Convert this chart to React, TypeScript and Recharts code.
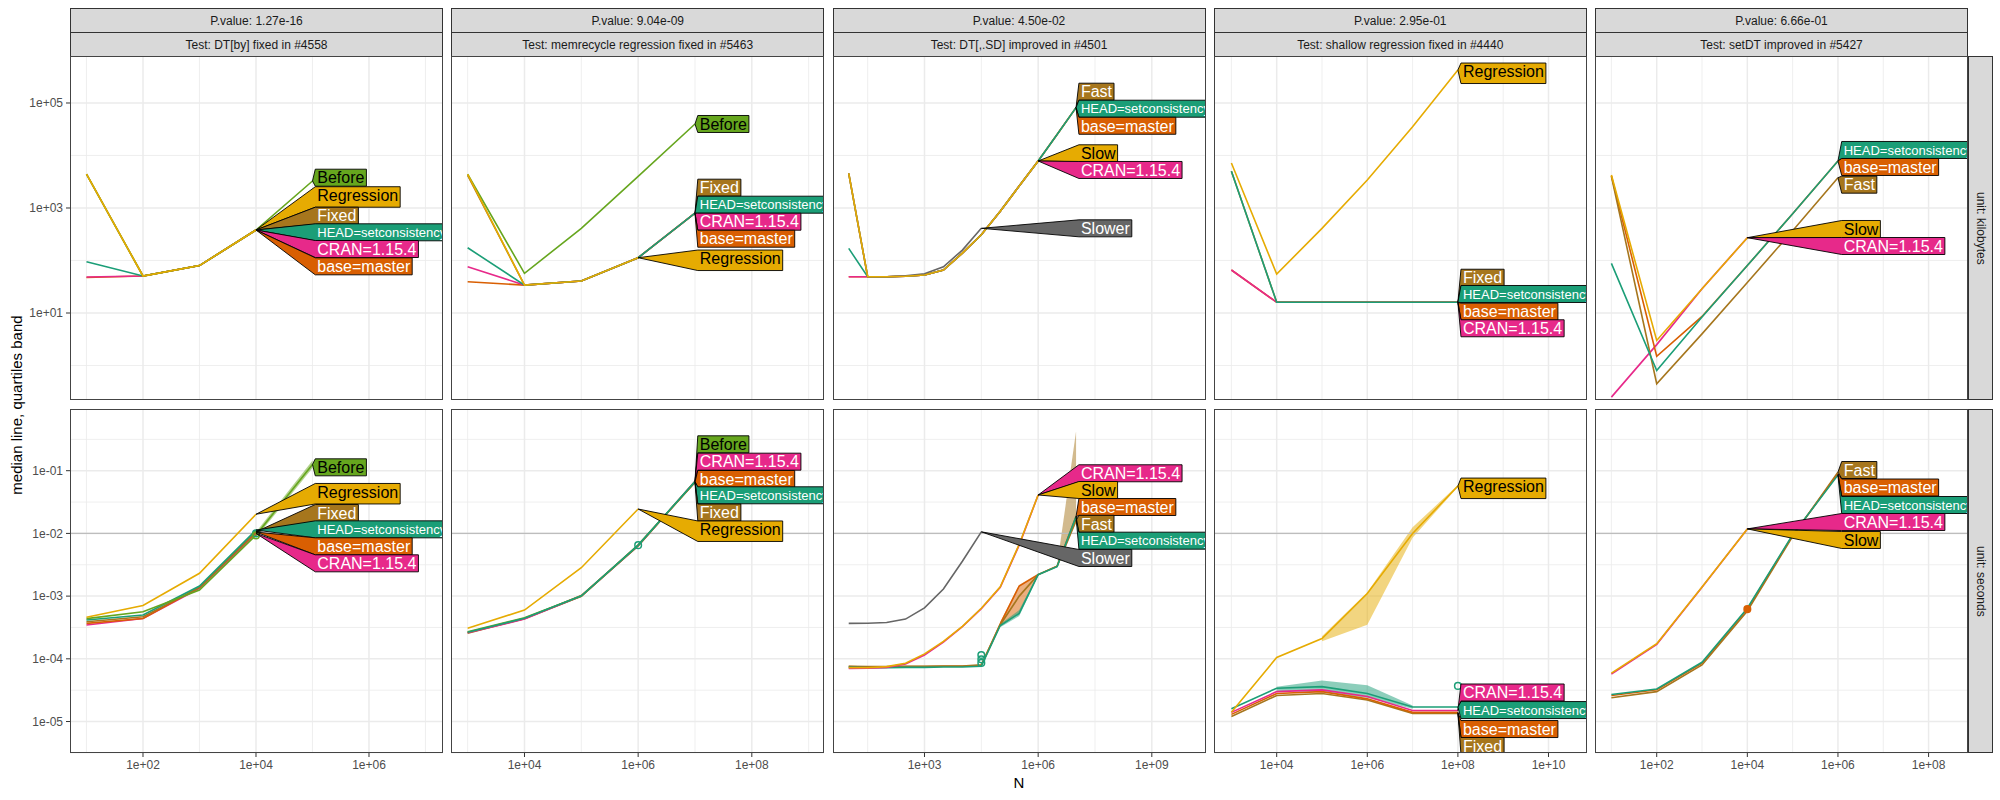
import React from "react";
import { ComposedChart, Line, Area, Scatter, XAxis, YAxis, CartesianGrid, ReferenceLine } from "recharts";

const FONT = '"Liberation Sans", Arial, Helvetica, sans-serif';

const COLORS: Record<string, string> = {
  Before: "#66A61E",
  Regression: "#E6AB02",
  Fixed: "#A6761D",
  "HEAD=setconsistency": "#1B9E77",
  "CRAN=1.15.4": "#E7298A",
  "base=master": "#D95F02",
  Slower: "#666666",
  Fast: "#A6761D",
  Slow: "#E6AB02",
};
const DARK_TEXT = new Set(["Before", "Regression", "Slow"]);

const PVALUES = ["P.value: 1.27e-16", "P.value: 9.04e-09", "P.value: 4.50e-02", "P.value: 2.95e-01", "P.value: 6.66e-01"];
const TESTS = [
  "Test: DT[by] fixed in #4558",
  "Test: memrecycle regression fixed in #5463",
  "Test: DT[,.SD] improved in #4501",
  "Test: shallow regression fixed in #4440",
  "Test: setDT improved in #5427",
];
const UNITS = ["unit: kilobytes", "unit: seconds"];

type Series = Record<string, number[]>;
type Bands = Record<string, ([number, number] | null)[]>;
type Labels = [string, number][]; // label text, log10 of box centre

// ---- DT[by] ----
const N_BY = [10, 100, 1000, 10000, 100000];
const KB_BY: Series = {
  "base=master": [47.5, 50.7, 80, 381],
  "CRAN=1.15.4": [48.5, 50.7, 80, 381],
  "HEAD=setconsistency": [95, 50.7, 80, 381],
  Fixed: [4400, 50.7, 80, 381],
  Before: [4400, 50.7, 80, 381, 3270],
  Regression: [4400, 50.7, 80, 381],
};
const SEC_BY: Series = {
  "CRAN=1.15.4": [3.46e-4, 4.4e-4, 1.33e-3, 1.0e-2],
  "base=master": [3.68e-4, 4.4e-4, 1.38e-3, 1.05e-2],
  Fixed: [3.9e-4, 4.7e-4, 1.38e-3, 1.06e-2],
  "HEAD=setconsistency": [4.16e-4, 5.0e-4, 1.45e-3, 1.13e-2],
  Before: [4.37e-4, 5.64e-4, 1.25e-3, 9.4e-3, 0.126],
  Regression: [4.59e-4, 7.1e-4, 2.31e-3, 2.02e-2],
};
const BANDS_SEC_BY: Bands = { Before: [null, null, null, [8.5e-3, 1.05e-2], [0.11, 0.145]] };
const LABELS_KB_BY: Labels = [["Before", 3.577], ["Regression", 3.21], ["Fixed", 2.853], ["HEAD=setconsistency", 2.537], ["CRAN=1.15.4", 2.219], ["base=master", 1.889]];
const LABELS_SEC_BY: Labels = [["Before", -0.946], ["Regression", -1.367], ["Fixed", -1.675], ["HEAD=setconsistency", -1.935], ["base=master", -2.206], ["CRAN=1.15.4", -2.477]];

// ---- memrecycle ----
const N_MEM = [1000, 10000, 100000, 1e6, 1e7];
const KB_MEM: Series = {
  "base=master": [39.5, 34, 40.7, 113, 795],
  "CRAN=1.15.4": [76, 34, 40.7, 113, 795],
  Fixed: [4200, 34, 40.7, 113, 795],
  "HEAD=setconsistency": [175, 34, 40.7, 113, 795],
  Before: [4390, 57, 410, 4000, 39800],
  Regression: [4390, 34, 40.7, 113],
};
const SEC_MEM: Series = {
  Fixed: [2.55e-4, 4.4e-4, 9.9e-4, 6.6e-3, 6.5e-2],
  "base=master": [2.62e-4, 4.35e-4, 1.02e-3, 6.4e-3, 6.6e-2],
  "CRAN=1.15.4": [2.6e-4, 4.3e-4, 1.0e-3, 6.3e-3, 6.8e-2],
  Before: [2.7e-4, 4.5e-4, 1.0e-3, 6.4e-3, 6.7e-2],
  "HEAD=setconsistency": [2.66e-4, 4.43e-4, 1.01e-3, 6.5e-3, 6.7e-2],
  Regression: [3.06e-4, 6.0e-4, 2.84e-3, 2.45e-2],
};
const LABELS_KB_MEM: Labels = [["Before", 4.6], ["Fixed", 3.387], ["HEAD=setconsistency", 3.063], ["CRAN=1.15.4", 2.739], ["base=master", 2.415], ["Regression", 2.004]];
const LABELS_SEC_MEM: Labels = [["Before", -0.579], ["CRAN=1.15.4", -0.856], ["base=master", -1.132], ["HEAD=setconsistency", -1.392], ["Fixed", -1.667], ["Regression", -1.965]];

// ---- DT[,.SD] ----
const N_SD = [10, 31.6, 100, 316, 1000, 3160, 10000, 31600, 1e5, 3.16e5, 1e6, 3.16e6, 1e7];
const KB_SD: Series = {
  "base=master": [49, 49, 49, 50, 53, 66, 138, 310, 870, 2630, 7850, 25100, 81600],
  Fast: [4570, 49, 49, 50, 53, 66, 138, 310, 870, 2630, 7850, 25100, 81600],
  "CRAN=1.15.4": [49, 49, 49, 50, 53, 66, 138, 310, 870, 2630, 7850],
  "HEAD=setconsistency": [170, 49, 49, 50, 53, 66, 138, 310, 870, 2630, 7850, 25100, 81600],
  Slower: [4570, 49, 49, 51, 56, 76, 158, 410],
  Slow: [4570, 49, 49, 50, 53, 66, 138, 310, 870, 2630, 7850],
};
const SEC_SD: Series = {
  Slower: [3.68e-4, 3.7e-4, 3.8e-4, 4.3e-4, 6.5e-4, 1.3e-3, 3.6e-3, 1.06e-2],
  "base=master": [7.5e-5, 7.4e-5, 7.4e-5, 7.5e-5, 7.5e-5, 7.6e-5, 7.6e-5, 7.8e-5, 3.6e-4, 1.45e-3, 2.2e-3, 3.0e-3, 1.85e-2],
  Fast: [7.6e-5, 7.5e-5, 7.5e-5, 7.6e-5, 7.6e-5, 7.7e-5, 7.7e-5, 8.0e-5, 3.5e-4, 1.0e-3, 2.2e-3, 3.0e-3, 1.6e-2],
  "HEAD=setconsistency": [7.3e-5, 7.2e-5, 7.2e-5, 7.3e-5, 7.3e-5, 7.4e-5, 7.4e-5, 7.6e-5, 3.4e-4, 5.3e-4, 2.2e-3, 2.95e-3, 1.85e-2],
  "CRAN=1.15.4": [7.0e-5, 7.1e-5, 7.3e-5, 8.3e-5, 1.15e-4, 1.85e-4, 3.25e-4, 6.3e-4, 1.38e-3, 6.5e-3, 4.1e-2],
  Slow: [7.2e-5, 7.2e-5, 7.5e-5, 8.5e-5, 1.2e-4, 1.9e-4, 3.3e-4, 6.4e-4, 1.41e-3, 6.7e-3, 4.1e-2],
};
const BANDS_SEC_SD: Bands = {
  Fast: [null, null, null, null, null, null, null, null, null, null, null, [2.9e-3, 3.1e-3], [1.5e-2, 0.42]],
  "base=master": [null, null, null, null, null, null, null, null, [3.3e-4, 3.9e-4], [5.5e-4, 1.5e-3], [2.1e-3, 2.3e-3]],
  "HEAD=setconsistency": [null, null, null, null, null, null, null, null, [3.2e-4, 3.6e-4], [4.8e-4, 6.0e-4], [2.1e-3, 2.3e-3]],
};
const LABELS_KB_SD: Labels = [["Fast", 5.215], ["HEAD=setconsistency", 4.891], ["base=master", 4.566], ["Slow", 4.042], ["CRAN=1.15.4", 3.724], ["Slower", 2.613]];
const LABELS_SEC_SD: Labels = [["CRAN=1.15.4", -1.041], ["Slow", -1.308], ["base=master", -1.579], ["Fast", -1.847], ["HEAD=setconsistency", -2.116], ["Slower", -2.392]];

// ---- shallow ----
const N_SH = [1000, 10000, 1e5, 1e6, 1e7, 1e8];
const KB_SH: Series = {
  "base=master": [66, 16, 16, 16, 16, 16],
  "CRAN=1.15.4": [66, 16, 16, 16, 16, 16],
  Fixed: [5000, 16, 16, 16, 16, 16],
  "HEAD=setconsistency": [5000, 16, 16, 16, 16, 16],
  Regression: [7200, 55, 410, 3400, 35400, 425000],
};
const SEC_SH: Series = {
  Fixed: [1.2e-5, 2.6e-5, 2.8e-5, 2.2e-5, 1.35e-5, 1.35e-5],
  "base=master": [1.3e-5, 2.8e-5, 3.0e-5, 2.3e-5, 1.4e-5, 1.4e-5],
  "CRAN=1.15.4": [1.4e-5, 3.0e-5, 3.2e-5, 2.5e-5, 1.5e-5, 1.5e-5],
  "HEAD=setconsistency": [1.6e-5, 3.4e-5, 3.6e-5, 2.8e-5, 1.7e-5, 1.7e-5],
  Regression: [1.4e-5, 1.05e-4, 2.1e-4, 1.1e-3, 1.0e-2, 5.7e-2],
};
const BANDS_SEC_SH: Bands = {
  Regression: [null, null, [1.9e-4, 2.3e-4], [3.5e-4, 1.15e-3], [8.5e-3, 1.25e-2], [5.5e-2, 5.9e-2]],
  "HEAD=setconsistency": [null, [3.1e-5, 3.6e-5], [2.9e-5, 4.5e-5], [2.4e-5, 3.8e-5], [1.6e-5, 1.8e-5], null],
};
const LABELS_KB_SH: Labels = [["Regression", 5.566], ["Fixed", 1.672], ["HEAD=setconsistency", 1.362], ["base=master", 1.025], ["CRAN=1.15.4", 0.709]];
const LABELS_SEC_SH: Labels = [["Regression", -1.281], ["CRAN=1.15.4", -4.537], ["HEAD=setconsistency", -4.817], ["base=master", -5.12], ["Fixed", -5.39]];

// ---- setDT ----
const N_SET = [10, 100, 1000, 10000, 1e5, 1e6];
const KB_SET: Series = {
  "CRAN=1.15.4": [0.25, 2.5, 29, 272],
  "base=master": [4100, 1.5, 8.6, 80, 780, 7850],
  Fast: [4000, 0.45, 4.0, 38, 370, 3780],
  "HEAD=setconsistency": [88, 0.8, 8.4, 80, 780, 7850],
  Slow: [4260, 3.0, 29, 272],
};
const SEC_SET: Series = {
  "CRAN=1.15.4": [5.7e-5, 1.7e-4, 1.38e-3, 1.18e-2],
  Fast: [2.4e-5, 3.0e-5, 8.0e-5, 5.8e-4, 9.0e-3, 9.5e-2],
  "base=master": [2.6e-5, 3.2e-5, 8.5e-5, 6.2e-4, 9.3e-3, 8.9e-2],
  "HEAD=setconsistency": [2.7e-5, 3.3e-5, 8.8e-5, 6.4e-4, 9.5e-3, 8.5e-2],
  Slow: [5.9e-5, 1.74e-4, 1.4e-3, 1.18e-2],
};
const LABELS_KB_SET: Labels = [["HEAD=setconsistency", 4.105], ["base=master", 3.781], ["Fast", 3.444], ["Slow", 2.6], ["CRAN=1.15.4", 2.276]];
const LABELS_SEC_SET: Labels = [["Fast", -0.989], ["base=master", -1.268], ["HEAD=setconsistency", -1.547], ["CRAN=1.15.4", -1.818], ["Slow", -2.105]];

// outlier points [N, seconds, colour, filled]
const OUT_SEC: [number, number, string, boolean][][] = [
  [[10000, 1.0e-2, "#1B9E77", false], [10000, 9.3e-3, "#66A61E", false]],
  [[1e6, 6.5e-3, "#1B9E77", false]],
  [[31600, 1.15e-4, "#1B9E77", false], [31600, 9.8e-5, "#1B9E77", false], [31600, 8.6e-5, "#1B9E77", false]],
  [[1e8, 3.7e-5, "#1B9E77", false]],
  [[10000, 6.2e-4, "#D95F02", true]],
];

const LABEL_AT = [1.12e5, 1.12e7, 1.19e7, 1.17e8, 1.21e6];
const X_LOG_DOMAIN: [number, number][] = [[0.708, 7.31], [2.707, 9.27], [0.585, 10.43], [2.616, 10.85], [0.638, 8.87]];
const X_TICKS = [[1e2, 1e4, 1e6], [1e4, 1e6, 1e8], [1e3, 1e6, 1e9], [1e4, 1e6, 1e8, 1e10], [1e2, 1e4, 1e6, 1e8]];
const Y_LOG_DOMAIN: [number, number][] = [[-0.657, 5.895], [-5.502, -0.016]];
const Y_TICKS = [[10, 1000, 100000], [1e-5, 1e-4, 1e-3, 1e-2, 1e-1]];

const PANELS = [
  { n: N_BY, kb: KB_BY, sec: SEC_BY, bands: BANDS_SEC_BY, kbLabels: LABELS_KB_BY, secLabels: LABELS_SEC_BY },
  { n: N_MEM, kb: KB_MEM, sec: SEC_MEM, bands: {}, kbLabels: LABELS_KB_MEM, secLabels: LABELS_SEC_MEM },
  { n: N_SD, kb: KB_SD, sec: SEC_SD, bands: BANDS_SEC_SD, kbLabels: LABELS_KB_SD, secLabels: LABELS_SEC_SD },
  { n: N_SH, kb: KB_SH, sec: SEC_SH, bands: BANDS_SEC_SH, kbLabels: LABELS_KB_SH, secLabels: LABELS_SEC_SH },
  { n: N_SET, kb: KB_SET, sec: SEC_SET, bands: {}, kbLabels: LABELS_KB_SET, secLabels: LABELS_SEC_SET },
];

// layout
const PLOT_W = 373;
const PLOT_H = 344;
const Y_AXIS_W = 52;
const X_AXIS_H = 30;
const COL_LEFT = [70, 451.25, 832.5, 1213.75, 1595];
const ROW_TOP = [56, 409];

const sci = (v: number) => {
  const e = Math.round(Math.log10(v));
  return `1e${e < 0 ? "-" : "+"}${String(Math.abs(e)).padStart(2, "0")}`;
};

// minor grid halfway (in log space) between the major ticks
const minorsOf = (ticks: number[], dom: [number, number]) => {
  const logs = ticks.map((t) => Math.log10(t));
  const step = logs.length > 1 ? logs[1] - logs[0] : 1;
  const out: number[] = [];
  for (let v = logs[0] - step * 5.5; v < dom[1]; v += step) {
    if (v > dom[0]) out.push(Math.pow(10, v));
  }
  return out;
};

const CHAR_W: Record<string, number> = {
  A: 0.667, B: 0.667, C: 0.722, D: 0.722, E: 0.667, F: 0.611, H: 0.722, N: 0.722, R: 0.722, S: 0.667,
  a: 0.556, b: 0.556, c: 0.5, d: 0.556, e: 0.556, f: 0.278, g: 0.556, h: 0.556, i: 0.222, k: 0.5, l: 0.222,
  m: 0.833, n: 0.556, o: 0.556, p: 0.556, r: 0.333, s: 0.5, t: 0.278, u: 0.556, v: 0.5, w: 0.722, x: 0.5, y: 0.5,
  "=": 0.584, ".": 0.278,
};
const textW = (s: string, fs: number) => [...s].reduce((a, ch) => a + (CHAR_W[ch] ?? 0.556), 0) * fs;

function LabelShape({ ax, ay, bx, by, text }: { ax: number; ay: number; bx: number; by: number; text: string }) {
  const fs = text.startsWith("HEAD") ? 13 : 16;
  const tall = fs === 16 && /[gy]/.test(text);
  const h = tall ? 20.5 : 17;
  const top = by - h / 2;
  const bot = by + h / 2;
  const w = textW(text, fs) + 4;
  const baseline = top + 8.5 + fs * 0.358;
  return (
    <g>
      <polygon
        points={`${ax},${ay} ${bx},${top} ${bx + w},${top} ${bx + w},${bot} ${bx},${bot}`}
        fill={COLORS[text]}
        stroke="#000"
        strokeWidth={0.9}
      />
      <text x={bx + 2} y={baseline} fontSize={fs} fill={DARK_TEXT.has(text) ? "#000" : "#fff"} fontFamily={FONT}>
        {text}
      </text>
    </g>
  );
}

const labelDot = (text: string, kx: number, ky: number) => (props: any) => {
  const { cx, cy, index, points, payload } = props;
  if (index !== 1 || !Number.isFinite(cx) || !Number.isFinite(cy)) return <g key={`d${index}`} />;
  let ax: number;
  let ay: number;
  const p0 = Array.isArray(points) ? points[0] : null;
  if (p0 && Number.isFinite(p0.x) && Number.isFinite(p0.y)) {
    ax = p0.x;
    ay = p0.y;
  } else {
    ax = cx + (Math.log10(payload.ax) - Math.log10(payload.x)) * kx;
    ay = cy - (Math.log10(payload.ay) - Math.log10(payload.y)) * ky;
  }
  return <LabelShape key={`l${text}`} ax={ax} ay={ay} bx={cx} by={cy} text={text} />;
};

function Panel({ col, row }: { col: number; row: number }) {
  const p = PANELS[col];
  const series = row === 0 ? p.kb : p.sec;
  const labels = row === 0 ? p.kbLabels : p.secLabels;
  const bands: Bands = row === 0 ? {} : p.bands;
  const outliers = row === 0 ? [] : OUT_SEC[col];
  const showY = col === 0;
  const showX = row === 1;
  const xd = X_LOG_DOMAIN[col];
  const yd = Y_LOG_DOMAIN[row];
  const kx = PLOT_W / (xd[1] - xd[0]);
  const ky = PLOT_H / (yd[1] - yd[0]);
  const width = PLOT_W + (showY ? Y_AXIS_W : 0);
  const height = PLOT_H + (showX ? X_AXIS_H : 0);

  const lastPoint = (vals: number[]) => {
    const i = vals.length - 1;
    return { x: p.n[i], y: vals[i] };
  };

  return (
    <div style={{ position: "absolute", left: COL_LEFT[col] - (showY ? Y_AXIS_W : 0), top: ROW_TOP[row] }}>
      <ComposedChart width={width} height={height} margin={{ top: 0, right: 0, bottom: 0, left: 0 }}>
        <XAxis
          type="number"
          dataKey="x"
          scale="log"
          domain={[Math.pow(10, xd[0]), Math.pow(10, xd[1])]}
          allowDataOverflow
          ticks={X_TICKS[col]}
          interval={0}
          tickFormatter={sci}
          hide={!showX}
          height={X_AXIS_H}
          axisLine={false}
          tickLine={{ stroke: "#333" }}
          tickSize={4}
          tickMargin={3}
          tick={{ fill: "#4d4d4d", fontSize: 12 }}
        />
        <YAxis
          type="number"
          dataKey="y"
          scale="log"
          domain={[Math.pow(10, yd[0]), Math.pow(10, yd[1])]}
          allowDataOverflow
          ticks={Y_TICKS[row]}
          interval={0}
          tickFormatter={sci}
          hide={!showY}
          width={Y_AXIS_W}
          axisLine={false}
          tickLine={{ stroke: "#333" }}
          tickSize={4}
          tickMargin={3}
          tick={{ fill: "#4d4d4d", fontSize: 12 }}
        />
        <CartesianGrid
          stroke="#ebebeb"
          strokeWidth={0.8}
          verticalValues={minorsOf(X_TICKS[col], xd)}
          horizontalValues={minorsOf(Y_TICKS[row], yd)}
        />
        <CartesianGrid stroke="#ebebeb" strokeWidth={1.5} verticalValues={X_TICKS[col]} horizontalValues={Y_TICKS[row]} />
        {row === 1 && <ReferenceLine y={0.01} stroke="#bdbdbd" strokeWidth={1.4} />}
        {Object.entries(bands).map(([name, b]) => (
          <Area
            key={`b-${name}`}
            data={p.n.map((x, i) => (b[i] ? { x, band: b[i] } : null)).filter(Boolean) as any[]}
            dataKey="band"
            type="linear"
            stroke="none"
            fill={COLORS[name]}
            fillOpacity={0.5}
            isAnimationActive={false}
            activeDot={false}
          />
        ))}
        {Object.entries(series).map(([name, vals]) => (
          <Line
            key={`s-${name}`}
            data={vals.map((y, i) => ({ x: p.n[i], y }))}
            dataKey="y"
            type="linear"
            stroke={COLORS[name]}
            strokeWidth={1.6}
            dot={false}
            activeDot={false}
            isAnimationActive={false}
          />
        ))}
        {outliers.map(([x, y, c, filled], i) => (
          <Scatter
            key={`o-${i}`}
            data={[{ x, y }]}
            isAnimationActive={false}
            shape={(sp: any) => (
              <circle cx={sp.cx} cy={sp.cy} r={3.3} fill={filled ? c : "none"} stroke={c} strokeWidth={1.5} />
            )}
          />
        ))}
        {labels.map(([text, yLog]) => {
          const anchor = lastPoint(series[text]);
          const ly = Math.pow(10, yLog);
          return (
            <Line
              key={`lab-${text}`}
              data={[anchor, { x: LABEL_AT[col], y: ly, ax: anchor.x, ay: anchor.y }]}
              dataKey="y"
              stroke="none"
              dot={labelDot(text, kx, ky)}
              activeDot={false}
              isAnimationActive={false}
            />
          );
        })}
      </ComposedChart>
    </div>
  );
}

const stripStyle: React.CSSProperties = {
  position: "absolute",
  boxSizing: "border-box",
  background: "#d9d9d9",
  border: "1px solid #333",
  display: "flex",
  alignItems: "center",
  justifyContent: "center",
  fontSize: 12,
  color: "#1a1a1a",
  whiteSpace: "nowrap",
  overflow: "hidden",
};

export default function App() {
  return (
    <div
      style={{
        position: "absolute",
        left: 0,
        top: 0,
        width: 2000,
        height: 800,
        background: "#fff",
        fontFamily: FONT,
        overflow: "hidden",
      }}
    >
      {PANELS.map((_, c) => (
        <React.Fragment key={c}>
          <div style={{ ...stripStyle, left: COL_LEFT[c], top: 8, width: PLOT_W, height: 25 }}>{PVALUES[c]}</div>
          <div style={{ ...stripStyle, left: COL_LEFT[c], top: 32, width: PLOT_W, height: 25 }}>{TESTS[c]}</div>
          <Panel col={c} row={0} />
          <Panel col={c} row={1} />
          {[0, 1].map((r) => (
            <div
              key={`border-${r}`}
              style={{
                position: "absolute",
                left: COL_LEFT[c],
                top: ROW_TOP[r],
                width: PLOT_W,
                height: PLOT_H,
                boxSizing: "border-box",
                border: "1.3px solid #444",
                pointerEvents: "none",
              }}
            />
          ))}
        </React.Fragment>
      ))}
      {UNITS.map((u, r) => (
        <div
          key={u}
          style={{
            ...stripStyle,
            left: 1968,
            top: ROW_TOP[r],
            width: 25,
            height: PLOT_H,
            writingMode: "vertical-rl",
          }}
        >
          {u}
        </div>
      ))}
      <div
        style={{
          position: "absolute",
          left: 17 - 200,
          top: 404.5 - 10,
          width: 400,
          height: 20,
          lineHeight: "20px",
          textAlign: "center",
          fontSize: 15,
          color: "#000",
          transform: "rotate(-90deg)",
        }}
      >
        median line, quartiles band
      </div>
      <div
        style={{
          position: "absolute",
          left: 1019 - 50,
          top: 773,
          width: 100,
          height: 20,
          lineHeight: "20px",
          textAlign: "center",
          fontSize: 15,
          color: "#000",
        }}
      >
        N
      </div>
    </div>
  );
}
